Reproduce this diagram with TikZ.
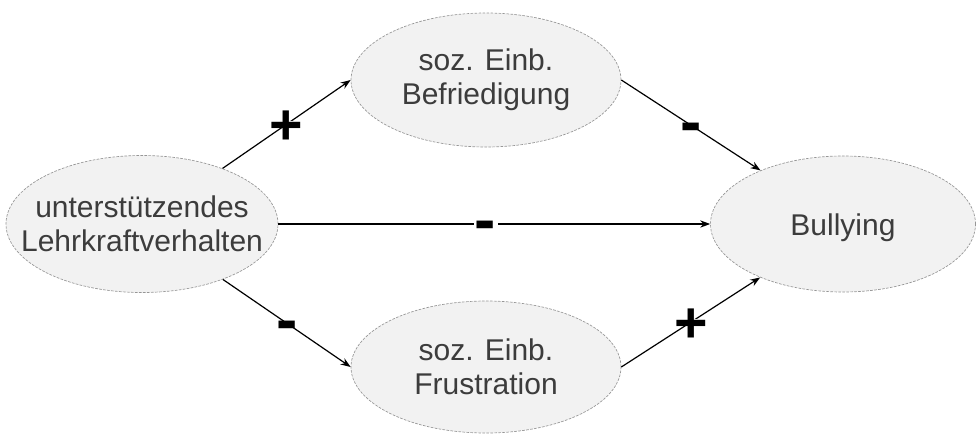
\documentclass[tikz,border=0pt]{standalone}
\usepackage{fontspec}
\setmainfont{Liberation Sans}
\usetikzlibrary{shapes.geometric,arrows.meta}
\definecolor{ellfill}{RGB}{242,242,242}
\definecolor{ellline}{RGB}{150,150,150}
\definecolor{txtcol}{RGB}{60,60,60}
\tikzset{
  ell/.style={ellipse, fill=ellfill, draw=ellline, line width=0.5pt,
    dash pattern=on 2pt off 1pt, inner sep=0pt},
  elltext/.style={align=center, text=txtcol, font=\fontsize{22.5}{25.5}\selectfont},
  conn/.style={line width=0.9pt, draw=black, -{Stealth[length=7.5pt,width=5.5pt]}},
  sign/.style={fill=white, text=black, inner ysep=0pt, inner xsep=1pt},
  plussign/.style={sign, font=\fontsize{43}{43}\bfseries\selectfont,
    text height=0.27em, text depth=0.27em},
  minussign/.style={sign, font=\fontsize{48}{48}\bfseries\selectfont,
    text height=0.12em, text depth=0.12em}
}
\newcommand{\pluslabel}{\raisebox{-0.355em}{+}}
\newcommand{\minuslabel}{\raisebox{-0.28em}{-}}
\begin{document}
\begin{tikzpicture}[x=0.75pt,y=-0.75pt]
\useasboundingbox (0,0) rectangle (976,433);
\node[ell, minimum width=204pt, minimum height=102.75pt,
  label={[elltext]center:unterstützendes\\Lehrkraftverhalten}] (L) at (142,224) {};
\node[ell, minimum width=202.5pt, minimum height=100.5pt,
  label={[elltext]center:soz. Einb.\\Befriedigung}] (T) at (486,80) {};
\node[ell, minimum width=202.5pt, minimum height=99pt,
  label={[elltext]center:soz. Einb.\\Frustration}] (B) at (486,367) {};
\node[ell, minimum width=198.75pt, minimum height=102pt,
  label={[elltext, yshift=-3pt]center:Bullying}] (U) at (843,224) {};
\draw[conn] (L) -- node[plussign]{\pluslabel} (T.west);
\draw[conn] (L) -- node[minussign]{\minuslabel} (B.west);
\draw[conn] (L) -- node[minussign, pos=0.48]{\minuslabel} (U);
\draw[conn] (T.east) -- node[minussign]{\minuslabel} (U);
\draw[conn] (B.east) -- node[plussign]{\pluslabel} (U);
\end{tikzpicture}
\end{document}
